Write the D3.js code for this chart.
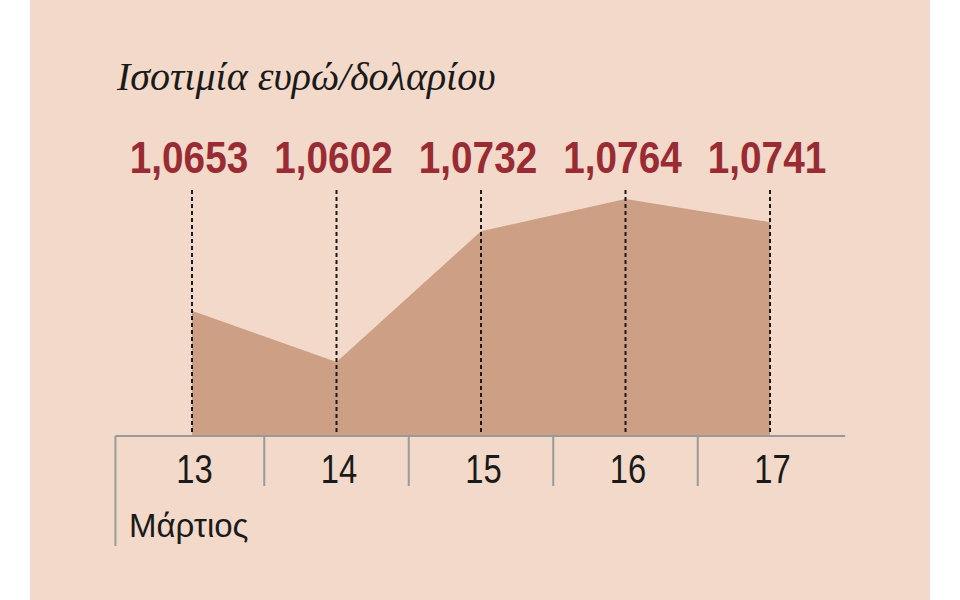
<!DOCTYPE html>
<html>
<head>
<meta charset="utf-8">
<script src="https://cdn.jsdelivr.net/npm/d3@7"></script>
<style>
  html, body { margin: 0; padding: 0; background: #ffffff; }
  svg { display: block; }
</style>
</head>
<body>
<script>
// Data
const DAYS  = ['13', '14', '15', '16', '17'];
const RATES = [1.0653, 1.0602, 1.0732, 1.0764, 1.0741];
const MONTH = 'Μάρτιος';
const TITLE = 'Ισοτιμία ευρώ/δολαρίου';

// Colors
const BG    = '#f2d9c9';
const AREA  = '#cda086';
const RED   = '#982b33';
const FG    = '#1a1a1a';
const GRID  = '#9a9a9a';

const SANS = "'Liberation Sans', sans-serif";

const W = 960, H = 600;
const BASE = 436;

// Greek style number: 1,0653
const fmt = d3.formatLocale({ decimal: ',', thousands: '.', grouping: [3], currency: ['', '€'] }).format('.4f');

const data = DAYS.map((d, i) => ({ day: d, rate: RATES[i] }));

// Scales
const x = d3.scalePoint()
  .domain(DAYS)
  .range([192, 770]);

const y = d3.scaleLinear()
  .domain([1.05285, 1.0764])
  .range([BASE, 199]);

const step = x.step();

var svg = d3.select('body').append('svg')
  .attr('width', W)
  .attr('height', H);

svg.append('rect')
  .attr('x', 30)
  .attr('y', 0)
  .attr('width', 900)
  .attr('height', H)
  .attr('fill', BG);

// Area
const area = d3.area()
  .x(d => x(d.day))
  .y0(y(y.domain()[0]))
  .y1(d => y(d.rate));

svg.append('path')
  .datum(data)
  .attr('d', area)
  .attr('fill', AREA);

// Dotted guides
svg.append('g')
  .selectAll('line')
  .data(data)
  .join('line')
    .attr('x1', d => x(d.day))
    .attr('x2', d => x(d.day))
    .attr('y1', 190)
    .attr('y2', BASE)
    .attr('stroke', FG)
    .attr('stroke-width', 2)
    .attr('stroke-dasharray', '4,3');

// Value labels (condensed)
svg.append('g')
  .selectAll('text')
  .data(data)
  .join('text')
    .attr('transform', d => `translate(${x(d.day) - 3}, 173) scale(0.86, 1)`)
    .attr('text-anchor', 'middle')
    .attr('font-family', SANS)
    .attr('font-weight', 'bold')
    .attr('font-size', '45px')
    .attr('fill', RED)
    .text(d => fmt(d.rate));

// Axis
const left  = x(DAYS[0]) - step * 0.53;
const right = x(DAYS[DAYS.length - 1]) + step * 0.52;

const xAxis = g => {
  g
    .attr('transform', `translate(0, ${BASE})`)
    .call(d3.axisBottom(x).tickSize(0))
    .call(g => g.select('.domain').remove())
    .call(g => g.selectAll('text')
      .attr('y', 0)
      .attr('dy', 0)
      .attr('transform', 'translate(2, 47) scale(0.8, 1)')
      .attr('font-family', SANS)
      .attr('font-size', '41px')
      .attr('fill', FG));
}
svg.append('g').call(xAxis);

svg.append('line')
  .attr('x1', left)
  .attr('x2', right)
  .attr('y1', BASE)
  .attr('y2', BASE)
  .attr('stroke', GRID)
  .attr('stroke-width', 2);

svg.append('line')
  .attr('x1', left)
  .attr('x2', left)
  .attr('y1', BASE)
  .attr('y2', 546)
  .attr('stroke', GRID)
  .attr('stroke-width', 2);

svg.append('g')
  .selectAll('line')
  .data(DAYS.slice(1))
  .join('line')
    .attr('x1', d => x(d) - step / 2)
    .attr('x2', d => x(d) - step / 2)
    .attr('y1', BASE)
    .attr('y2', 486)
    .attr('stroke', GRID)
    .attr('stroke-width', 2);

svg.append('text')
  .attr('x', 129)
  .attr('y', 537)
  .attr('font-family', SANS)
  .attr('font-size', '33px')
  .attr('fill', FG)
  .text(MONTH);

// Title
svg.append('text')
  .attr('x', 117)
  .attr('y', 90)
  .attr('font-family', "'Liberation Serif', serif")
  .attr('font-style', 'italic')
  .attr('font-size', '40px')
  .attr('fill', FG)
  .text(TITLE);
</script>
</body>
</html>
